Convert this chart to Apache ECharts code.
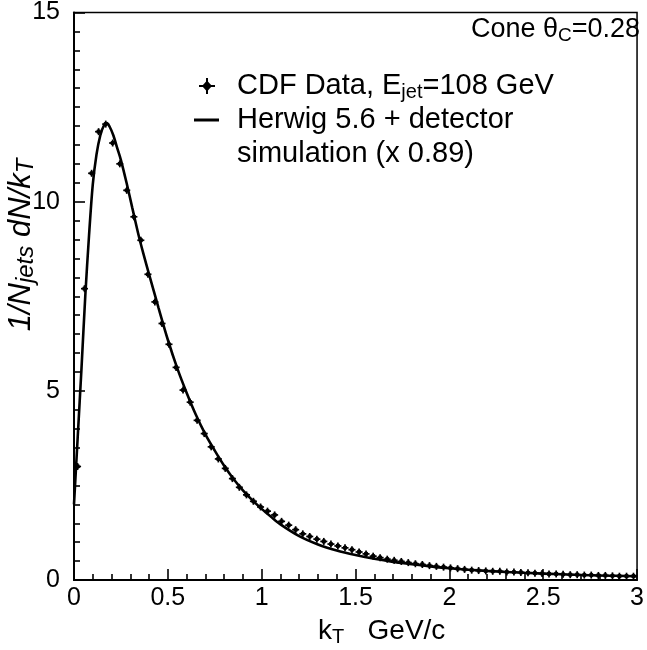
<!DOCTYPE html>
<html><head><meta charset="utf-8">
<script src="https://cdn.jsdelivr.net/npm/echarts@6.0.0/dist/echarts.min.js"></script>
<style>html,body{margin:0;padding:0;background:#fff}#c{width:647px;height:650px}</style>
</head><body><div id="c"></div>
<script>
// ---- data ----
const cdfKt = [0.019,0.056,0.094,0.131,0.169,0.206,0.244,0.281,0.319,0.356,
  0.394,0.431,0.469,0.506,0.544,0.581,0.619,0.656,0.694,0.731,
  0.769,0.806,0.844,0.881,0.919,0.956,0.994,1.031,1.069,1.106,
  1.144,1.181,1.219,1.256,1.294,1.331,1.369,1.406,1.444,1.481,
  1.519,1.556,1.594,1.631,1.669,1.706,1.744,1.781,1.819,1.856,
  1.894,1.931,1.969,2.006,2.044,2.081,2.119,2.156,2.194,2.231,
  2.269,2.306,2.344,2.381,2.419,2.456,2.494,2.531,2.569,2.606,
  2.644,2.681,2.719,2.756,2.794,2.831,2.869,2.906,2.944,2.981];
const cdfValues = [3.0,7.7,10.75,11.85,12.05,11.55,11.0,10.3,9.6,8.98,
  8.08,7.35,6.78,6.23,5.62,5.02,4.7,4.22,3.87,3.52,
  3.2,2.95,2.68,2.45,2.25,2.08,1.93,1.82,1.72,1.55,
  1.45,1.33,1.22,1.15,1.08,1.02,0.95,0.9,0.85,0.8,
  0.74,0.69,0.63,0.59,0.55,0.52,0.49,0.46,0.43,0.41,
  0.38,0.36,0.34,0.32,0.30,0.28,0.26,0.25,0.24,0.23,
  0.23,0.21,0.21,0.20,0.19,0.18,0.17,0.16,0.16,0.15,
  0.14,0.14,0.13,0.13,0.12,0.12,0.11,0.10,0.10,0.10];
const cdfBinHalfWidth = 0.01875;
const herwigKt = [0,0.02,0.04,0.06,0.08,0.10,0.12,0.14,0.16,0.175,0.19,0.21,0.23,0.25,0.28,0.31,0.34,0.37,0.40,0.45,0.50,0.55,0.60,0.65,0.70,0.75,0.80,0.85,0.90,0.95,1.00,1.05,1.10,1.20,1.30,1.40,1.50,1.60,1.70,1.80,1.90,2.00,2.20,2.40,2.60,2.80,3.00];
const herwigValues = [2.0,3.8,5.6,7.5,9.1,10.45,11.25,11.75,12.02,12.08,11.98,11.75,11.42,11.1,10.5,9.85,9.2,8.62,8.08,7.2,6.35,5.6,4.95,4.36,3.85,3.42,3.02,2.67,2.37,2.11,1.88,1.67,1.47,1.16,0.94,0.78,0.66,0.56,0.48,0.42,0.36,0.31,0.24,0.19,0.15,0.12,0.10];
const xTickLabels = ['0','0.5','1','1.5','2','2.5','3'];
const yTickLabels = ['0','5','10','15'];

// ---- chart ----
const FONT = "'Liberation Sans', Arial, Helvetica, sans-serif";
const chart = echarts.init(document.getElementById('c'), null, {renderer: 'canvas'});
const cdfPoints = cdfKt.map((k, i) => [k, cdfValues[i]]);
const herwigPoints = herwigKt.map((k, i) => [k, herwigValues[i]]);

function tickText(labels, v, step) {
  const idx = Math.round(v / step);
  return Math.abs(idx * step - v) < 1e-6 ? (labels[idx] || '') : '';
}

const option = {
  animation: false,
  backgroundColor: '#fff',
  grid: {left: 74, right: 4, top: 11, bottom: 70, show: true, borderColor: '#000', borderWidth: 1.5, backgroundColor: 'transparent'},
  xAxis: {
    type: 'value', min: 0, max: 3, interval: 0.5,
    axisLine: {show: true, onZero: false, lineStyle: {color: '#000', width: 2}},
    axisTick: {show: true, inside: true, length: 11, lineStyle: {color: '#000', width: 1.6}},
    minorTick: {show: true, splitNumber: 5, length: 6, lineStyle: {color: '#000', width: 1.6}},
    splitLine: {show: false}, minorSplitLine: {show: false},
    axisLabel: {color: '#000', fontFamily: FONT, fontSize: 25, margin: 6,
      formatter: v => tickText(xTickLabels, v, 0.5)}
  },
  yAxis: {
    type: 'value', min: 0, max: 15, interval: 5,
    axisLine: {show: true, onZero: false, lineStyle: {color: '#000', width: 2}},
    axisTick: {show: true, inside: true, length: 11, lineStyle: {color: '#000', width: 1.6}},
    minorTick: {show: true, splitNumber: 10, length: 6, lineStyle: {color: '#000', width: 1.6}},
    splitLine: {show: false}, minorSplitLine: {show: false},
    axisLabel: {color: '#000', fontFamily: FONT, fontSize: 25, margin: 14,
      formatter: v => tickText(yTickLabels, v, 5)}
  },
  series: [
    {
      name: 'Herwig 5.6 + detector simulation (x 0.89)',
      type: 'line', data: herwigPoints, smooth: 0.3, showSymbol: false, z: 2,
      lineStyle: {color: '#000', width: 2.6}
    },
    {
      name: 'CDF Data, Ejet=108 GeV',
      type: 'custom', data: cdfPoints, z: 3,
      renderItem: function (params, api) {
        const k = api.value(0), v = api.value(1);
        const c = api.coord([k, v]);
        const l = api.coord([k - cdfBinHalfWidth, v]);
        const r = api.coord([k + cdfBinHalfWidth, v]);
        const st = {stroke: '#000', lineWidth: 1.7};
        return {
          type: 'group',
          children: [
            {type: 'line', shape: {x1: l[0], y1: c[1], x2: r[0], y2: c[1]}, style: st},
            {type: 'line', shape: {x1: c[0], y1: c[1] - 3.5, x2: c[0], y2: c[1] + 3.5}, style: st},
            {type: 'circle', shape: {cx: c[0], cy: c[1], r: 2.4}, style: {fill: '#000'}}
          ]
        };
      }
    }
  ],
  graphic: [
    // y axis title
    {type: 'text', x: 21, y: 245, rotation: Math.PI / 2,
      style: {
        text: '{m|1/N}{s|jets}{m| dN/k}{s|T}',
        align: 'center', verticalAlign: 'middle',
        rich: {
          m: {fontFamily: FONT, fontSize: 31, fontStyle: 'italic', fill: '#000', lineHeight: 34},
          s: {fontFamily: FONT, fontSize: 24, fontStyle: 'italic', fill: '#000', lineHeight: 20, verticalAlign: 'bottom'}
        }
      }},
    // x axis title
    {type: 'text', x: 318, y: 631,
      style: {
        text: '{m|k}{s|T}{m|   GeV/c}',
        align: 'left', verticalAlign: 'middle',
        rich: {
          m: {fontFamily: FONT, fontSize: 28, fill: '#000', lineHeight: 32},
          s: {fontFamily: FONT, fontSize: 20, fill: '#000', lineHeight: 16, verticalAlign: 'bottom'}
        }
      }},
    // cone label
    {type: 'text', x: 640, y: 30,
      style: {
        text: '{m|Cone \u03b8}{s|C}{m|=0.28}',
        align: 'right', verticalAlign: 'middle',
        rich: {
          m: {fontFamily: FONT, fontSize: 27, fill: '#000', lineHeight: 30},
          s: {fontFamily: FONT, fontSize: 19, fill: '#000', lineHeight: 14, verticalAlign: 'bottom'}
        }
      }},
    // legend: data marker
    {type: 'line', shape: {x1: 199, y1: 86, x2: 215, y2: 86}, style: {stroke: '#000', lineWidth: 2}},
    {type: 'line', shape: {x1: 207, y1: 78, x2: 207, y2: 94}, style: {stroke: '#000', lineWidth: 2}},
    {type: 'polygon', shape: {points: [[207, 80.5], [212, 86], [207, 91.5], [202, 86]]}, style: {fill: '#000'}},
    {type: 'text', x: 237, y: 86,
      style: {
        text: '{m|CDF Data, E}{s|jet}{m|=108 GeV}',
        align: 'left', verticalAlign: 'middle',
        rich: {
          m: {fontFamily: FONT, fontSize: 29, fill: '#000', lineHeight: 32},
          s: {fontFamily: FONT, fontSize: 20, fill: '#000', lineHeight: 15, verticalAlign: 'bottom'}
        }
      }},
    // legend: line
    {type: 'line', shape: {x1: 194, y1: 120, x2: 219, y2: 120}, style: {stroke: '#000', lineWidth: 3}},
    {type: 'text', x: 237, y: 120,
      style: {text: 'Herwig 5.6 + detector', align: 'left', verticalAlign: 'middle',
        fontFamily: FONT, fontSize: 29, fill: '#000'}},
    {type: 'text', x: 237, y: 154,
      style: {text: 'simulation (x 0.89)', align: 'left', verticalAlign: 'middle',
        fontFamily: FONT, fontSize: 29, fill: '#000'}}
  ]
};
chart.setOption(option);
</script>
</body></html>
